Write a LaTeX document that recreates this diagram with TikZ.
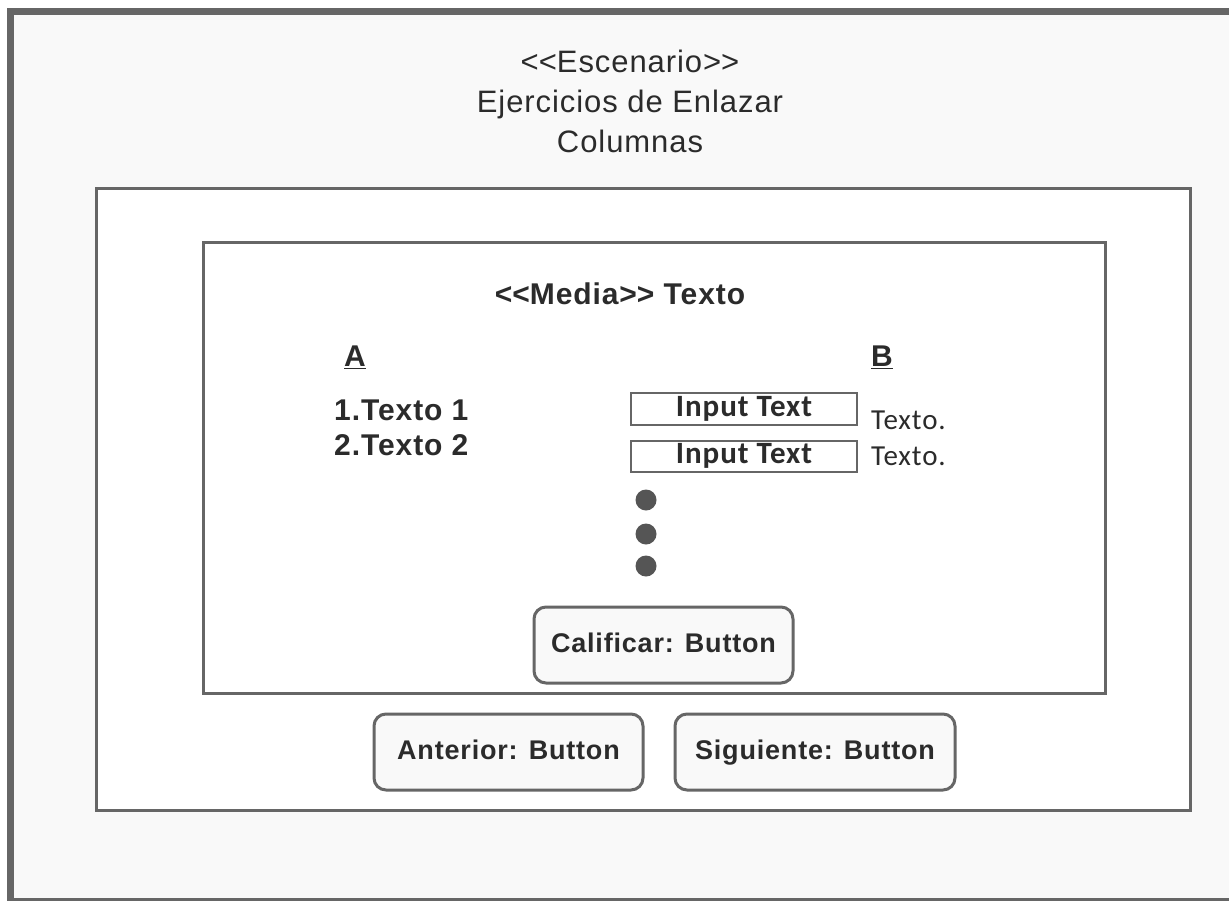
\documentclass[tikz,border=0pt]{standalone}
\usepackage{fontspec}
\setmainfont[Ligatures=TeXOff]{Liberation Sans}
\newfontfamily\sansLS[LetterSpace=3,Ligatures=TeXOff]{Liberation Sans}
\newfontfamily\calLS[LetterSpace=3,Ligatures=TeXOff]{Carlito}
\definecolor{frame}{HTML}{666666}
\definecolor{txt}{HTML}{2B2B2B}
\definecolor{bgpale}{HTML}{F9F9F9}
\definecolor{dotc}{HTML}{555555}
\newcommand{\lt}{\symbol{60}\kern0pt}
\newcommand{\gt}{\symbol{62}\kern0pt}
\tikzset{
  panel/.style={draw=frame, line width=3pt, fill=white},
  btn/.style={draw=frame, line width=3pt, fill=bgpale, rounded corners=12pt,
    text=txt, text height=20pt, text depth=6pt, font=\sansLS\fontsize{27}{30}\selectfont\bfseries},
  inbox/.style={draw=frame, line width=2.5pt, fill=white, inner sep=0pt, text=txt,
    text height=20pt, text depth=6pt, font=\calLS\fontsize{31}{32}\selectfont\bfseries},
  lbl/.style={text=txt, inner sep=0pt, font=\sansLS\fontsize{30}{32}\selectfont\bfseries},
  small/.style={text=txt, inner sep=0pt, anchor=west, font=\calLS\fontsize{29}{30}\selectfont},
  dotm/.style={circle, fill=dotc, minimum size=21pt, inner sep=0pt},
}
\begin{document}
\begin{tikzpicture}[x=1pt, y=-1pt]
\useasboundingbox (0,0) rectangle (1229,900);
\begin{scope}
\clip (0,0) rectangle (1229,900);
\draw[draw=frame, line width=7pt, fill=bgpale] (10.5,11.5) rectangle (1245,901.5);
\end{scope}
\draw[panel] (96,188) rectangle (1190,810);
\draw[panel] (203,242) rectangle (1105,693);
% title
\node[text=txt, inner sep=0pt, align=center, font=\sansLS\fontsize{31}{40}\selectfont] (title) at (630,101)
  {\lt\lt Escenario\gt\gt\\Ejercicios de Enlazar\\Columnas};
\node[lbl] (media) at (620,294) {\lt\lt Media\gt\gt\ Texto};
\node[lbl] (colA) at (355,357) {\underline{A}};
\node[lbl] (colB) at (882,357) {\underline{B}};
\node[lbl, anchor=west] (it1) at (334,410) {1.\kern1pt Texto 1};
\node[lbl, anchor=west] (it2) at (334,445) {2.\kern1pt Texto 2};
% input boxes
\node[inbox, minimum width=226pt, minimum height=32pt] (in1) at (744,409) {Input Text};
\node[inbox, minimum width=226pt, minimum height=31pt] (in2) at (744,456.5) {Input Text};
\node[small] (t1) at (871,420) {Texto.};
\node[small] (t2) at (871,456) {Texto.};
% dots
\node[dotm] (d1) at (646,500) {};
\node[dotm] (d2) at (646,534) {};
\node[dotm] (d3) at (646,566) {};
% buttons
\node[btn, minimum width=259pt, minimum height=76pt] (calif) at (663.5,645) {Calificar: Button};
\node[btn, minimum width=269pt, minimum height=76pt] (ant) at (508.5,752) {Anterior: Button};
\node[btn, minimum width=280pt, minimum height=76pt] (sig) at (815,752) {Siguiente: Button};
\end{tikzpicture}
\end{document}
